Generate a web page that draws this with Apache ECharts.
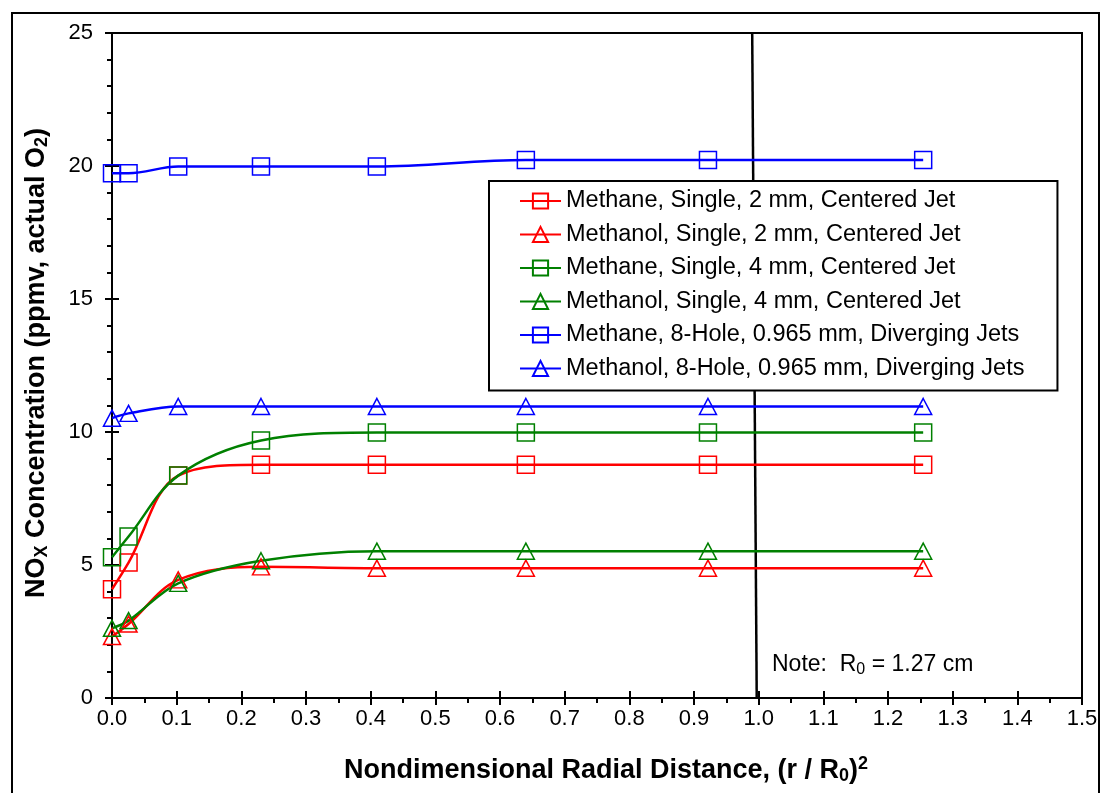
<!DOCTYPE html>
<html>
<head>
<meta charset="utf-8">
<title>NOx vs radial distance</title>
<script src="https://cdn.jsdelivr.net/npm/echarts@6/dist/echarts.min.js"></script>
<style>
  html, body { margin: 0; padding: 0; background: #fff; }
  #chart { width: 1101px; height: 793px; }
</style>
</head>
<body>
<div id="chart"></div>
<script>
  // (r / R0)^2 sample positions
  var xVals = [0, 0.0256, 0.1024, 0.2304, 0.4096, 0.64, 0.9216, 1.2544];

  var names = [
    'Methane, Single, 2 mm, Centered Jet',
    'Methanol, Single, 2 mm, Centered Jet',
    'Methane, Single, 4 mm, Centered Jet',
    'Methanol, Single, 4 mm, Centered Jet',
    'Methane, 8-Hole, 0.965 mm, Diverging Jets',
    'Methanol, 8-Hole, 0.965 mm, Diverging Jets'
  ];

  var methane2 = [4.09, 5.09, 8.36, 8.77, 8.77, 8.77, 8.77, 8.77];
  var methanol2 = [2.31, 2.78, 4.44, 4.93, 4.88, 4.88, 4.88, 4.88];
  var methane4 = [5.29, 6.07, 8.36, 9.68, 9.98, 9.98, 9.98, 9.98];
  var methanol4 = [2.62, 2.91, 4.31, 5.16, 5.52, 5.52, 5.52, 5.52];
  var methane8 = [19.73, 19.73, 19.98, 19.98, 19.98, 20.23, 20.23, 20.23];
  var methanol8 = [10.52, 10.7, 10.96, 10.96, 10.96, 10.96, 10.96, 10.96];

  // vertical reference at (r/R0)^2 = 1 (slightly slanted like the original)
  var refLine = [[0.990, 25], [0.997, 0]];

  var font = 'Arial, "Liberation Sans", sans-serif';

  function pairs(ys) {
    return xVals.map(function (x, i) { return [x, ys[i]]; });
  }

  function makeSeries(name, ys, color, symbol) {
    return {
      name: name,
      type: 'line',
      data: pairs(ys),
      smooth: 0.35,
      symbol: symbol,
      symbolSize: symbol === 'rect' ? 17 : [17, 16],
      showSymbol: true,
      z: 3,
      lineStyle: { color: color, width: 2.5 },
      itemStyle: { color: 'rgba(0,0,0,0)', borderColor: color, borderWidth: 1.5 },
      emphasis: { disabled: true },
      animation: false
    };
  }

  var chart = echarts.init(document.getElementById('chart'), null, { renderer: 'canvas' });

  // second axis pair only draws the inner half of the major ticks
  var tickAxisBase = {
    type: 'value',
    axisLine: { show: false },
    axisLabel: { show: false },
    splitLine: { show: false },
    minorTick: { show: false },
    axisTick: { show: true, inside: true, length: 7, lineStyle: { color: '#000', width: 2 } }
  };

  var option = {
    backgroundColor: '#fff',
    animation: false,
    grid: {
      left: 112, top: 33, right: 19, bottom: 95,
      show: true, borderColor: '#000', borderWidth: 2, backgroundColor: 'transparent'
    },
    xAxis: [{
      type: 'value',
      min: 0, max: 1.5, interval: 0.1,
      axisLine: { show: true, onZero: false, lineStyle: { color: '#000', width: 2 } },
      axisTick: { show: true, length: 7, lineStyle: { color: '#000', width: 2 } },
      minorTick: { show: true, splitNumber: 2, length: 5, lineStyle: { color: '#000', width: 2 } },
      splitLine: { show: false },
      axisLabel: {
        margin: 10, color: '#000', fontSize: 22, fontFamily: font,
        formatter: function (v) { return v.toFixed(1); }
      }
    }, Object.assign({}, tickAxisBase, { min: 0, max: 1.5, interval: 0.1, position: 'bottom' })],
    yAxis: [{
      type: 'value',
      min: 0, max: 25, interval: 5,
      axisLine: { show: true, onZero: false, lineStyle: { color: '#000', width: 2 } },
      axisTick: { show: true, length: 7, lineStyle: { color: '#000', width: 2 } },
      minorTick: { show: true, splitNumber: 5, length: 5, lineStyle: { color: '#000', width: 2 } },
      splitLine: { show: false },
      axisLabel: { margin: 19, color: '#000', fontSize: 22, fontFamily: font }
    }, Object.assign({}, tickAxisBase, { min: 0, max: 25, interval: 5, position: 'left' })],
    legend: {
      orient: 'vertical',
      left: 489, top: 181,
      data: names,
      backgroundColor: '#fff',
      borderColor: '#000',
      borderWidth: 2,
      borderRadius: 0,
      padding: [8, 33, 10, 30],
      itemWidth: 41,
      itemHeight: 19,
      itemGap: 9.5,
      selectedMode: false,
      z: 10,
      textStyle: { color: '#000', fontSize: 23.5, lineHeight: 23, fontFamily: font }
    },
    series: [
      makeSeries(names[0], methane2, '#ff0000', 'rect'),
      makeSeries(names[1], methanol2, '#ff0000', 'triangle'),
      makeSeries(names[2], methane4, '#008000', 'rect'),
      makeSeries(names[3], methanol4, '#008000', 'triangle'),
      makeSeries(names[4], methane8, '#0000ff', 'rect'),
      makeSeries(names[5], methanol8, '#0000ff', 'triangle'),
      {
        name: 'ref',
        type: 'line',
        data: refLine,
        symbol: 'none',
        z: 2,
        lineStyle: { color: '#000', width: 2.5 },
        emphasis: { disabled: true },
        animation: false
      }
    ],
    graphic: [
      {
        type: 'rect',
        silent: true,
        z: 0,
        shape: { x: 12, y: 13, width: 1087, height: 800 },
        style: { fill: 'none', stroke: '#000', lineWidth: 2 }
      },
      {
        type: 'text',
        left: 772, top: 653,
        z: 5,
        style: {
          text: '{n|Note:  R}{s|0}{n| = 1.27 cm}',
          fill: '#000',
          rich: {
            n: { fontSize: 23, fontFamily: font, fill: '#000' },
            s: { fontSize: 16, fontFamily: font, fill: '#000', padding: [10, 0, 0, 0] }
          }
        }
      },
      {
        type: 'text',
        x: 606, y: 771,
        z: 5,
        style: {
          text: '{b|Nondimensional Radial Distance, (r / R}{s|0}{b|)}{p|2}',
          align: 'center',
          verticalAlign: 'middle',
          fill: '#000',
          rich: {
            b: { fontSize: 27, fontWeight: 'bold', fontFamily: font, fill: '#000' },
            s: { fontSize: 18, fontWeight: 'bold', fontFamily: font, fill: '#000', padding: [11, 0, 0, 0] },
            p: { fontSize: 18, fontWeight: 'bold', fontFamily: font, fill: '#000', padding: [0, 0, 13, 0] }
          }
        }
      },
      {
        type: 'text',
        x: 37, y: 363,
        rotation: Math.PI / 2,
        z: 5,
        style: {
          text: '{b|NO}{s|X}{b| Concentration (ppmv, actual O}{s|2}{b|)}',
          align: 'center',
          verticalAlign: 'middle',
          fill: '#000',
          rich: {
            b: { fontSize: 27, fontWeight: 'bold', fontFamily: font, fill: '#000' },
            s: { fontSize: 18, fontWeight: 'bold', fontFamily: font, fill: '#000', padding: [11, 0, 0, 0] }
          }
        }
      }
    ]
  };

  chart.setOption(option);
</script>
</body>
</html>
